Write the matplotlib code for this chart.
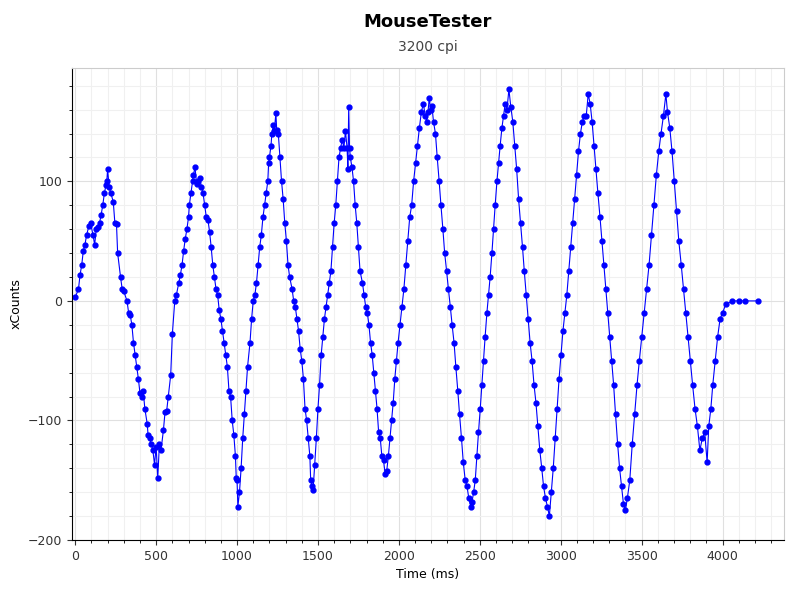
import matplotlib
matplotlib.use("Agg")
import matplotlib.pyplot as plt
from matplotlib.ticker import MultipleLocator

time_ms = [0,20,30,40,50,60,70,85,95,110,120,130,140,150,160,170,180,190,195,200,210,220,235,245,255,262,280,290,300,320,330,340,350,360,370,380,390,400,410,420,430,445,450,460,470,480,490,500,510,520,530,545,555,565,575,590,600,
 615,625,640,650,660,670,680,690,700,705,715,725,730,740,750,760,770,780,790,800,810,820,830,840,850,860,870,880,890,900,910,920,930,940,950,960,970,980,990,995,1000,1005,1015,1025,1035,1045,
 1055,1065,1080,1090,1100,1110,1120,1130,1140,1150,1160,1170,1180,1190,1195,1200,1210,1215,1225,1230,1240,1245,1255,1265,1275,1285,1295,1305,1315,1325,1340,1350,1360,1370,1380,1390,1400,1410,1420,1430,1440,1450,1455,1465,1470,1480,1490,1500,
 1510,1520,1530,1540,1550,1560,1570,1580,1590,1600,1610,1620,1630,1640,1650,1660,1670,1680,1685,1690,1695,1700,1710,1720,1730,1740,1750,1760,1775,1785,1795,1805,1815,1825,1835,1845,1855,1865,1875,1885,1895,1905,1915,1925,1935,1945,1955,1965,1975,1985,
 1995,2007,2019,2031,2043,2055,2067,2079,2091,2103,2115,2127,2139,2151,2163,2172,2180,2188,2196,2204,
 2214,2226,2237,2249,2260,2272,2283,2295,2306,2318,2329,2341,2352,2364,2375,2387,2398,2410,2421,2432,2444,
 2452,2462,2472,2482,2492,2503,2513,2523,2533,2544,2554,2564,2575,2585,2595,2606,2616,2626,2637,2647,2657,2668,2680,
 2692,2704,2716,2728,2740,2752,2764,2775,2787,2799,2811,2823,2835,2847,2859,2871,2883,2894,2906,2918,2930,
 2942,2954,2966,2978,2990,3002,3014,3026,3038,3050,3062,3074,3086,3098,3110,3122,3134,3146,3158,3170,
 3182,3194,3206,3218,3230,3243,3255,3267,3279,3291,3303,3315,3327,3339,3352,3364,3376,3388,3400,
 3412,3427,3442,3457,3472,3486,3501,3516,3531,3546,3561,3576,3591,3606,3620,3635,3650,
 3660,3674,3688,3702,3716,3730,3745,3759,3773,3787,3801,3815,3830,3845,3860,3875,3890,3905,
 3915,3928,3940,3955,3970,3985,4000,4020,4060,4100,4140,4220]
x_counts = [3,10,22,30,42,47,55,63,65,55,47,60,62,65,72,80,90,97,100,110,95,90,83,65,64,40,20,10,8,0,-10,-12,-20,-35,-45,-55,-65,-77,-80,-75,-90,-103,-112,-115,-120,-125,-137,-122,-148,-120,-125,-108,-93,-92,-80,-62,-28,
 0,5,15,22,30,42,52,60,70,80,90,100,105,112,98,100,103,95,90,80,70,68,58,45,30,20,10,5,-8,-15,-25,-35,-45,-55,-75,-80,-100,-112,-130,-148,-150,-172,-160,-140,-115,-95,
 -75,-55,-35,-15,0,5,15,30,45,55,70,80,90,100,115,120,130,140,147,142,157,143,140,120,100,85,65,50,30,20,10,0,-5,-15,-25,-40,-50,-65,-90,-100,-115,-130,-150,-155,-158,-137,-115,-90,
 -70,-45,-30,-15,-5,5,15,25,45,65,80,100,120,128,135,128,142,128,110,162,128,120,112,100,80,65,45,25,15,5,-5,-10,-20,-35,-45,-60,-75,-90,-110,-115,-130,-133,-145,-142,-130,-115,-100,-85,-65,-50,
 -35,-20,-5,10,30,50,70,80,100,115,130,145,158,165,155,150,158,170,160,163,
 150,140,120,100,80,60,40,25,10,-5,-20,-35,-55,-75,-95,-115,-135,-150,-155,-165,-172,
 -168,-160,-150,-130,-110,-90,-70,-50,-30,-10,5,20,40,60,80,100,115,130,145,155,165,160,177,
 162,150,130,110,85,65,45,25,5,-15,-35,-50,-70,-85,-105,-125,-140,-155,-165,-172,-180,
 -160,-140,-115,-90,-65,-45,-25,-10,5,25,45,65,85,105,125,140,150,155,155,173,
 165,150,130,110,90,70,50,30,10,-10,-30,-50,-70,-95,-120,-140,-155,-170,-175,
 -165,-150,-120,-95,-70,-50,-30,-10,10,30,55,80,105,125,140,155,173,
 158,145,125,100,75,50,30,10,-10,-30,-50,-70,-90,-105,-125,-115,-110,-135,
 -105,-90,-70,-50,-30,-15,-10,-3,0,0,0,0]

fig = plt.figure(figsize=(8, 6), dpi=100)
ax = fig.add_axes([0.09, 0.10, 0.89, 0.787])
ax.plot(time_ms, x_counts, color="#0000ff", lw=0.8)
ax.plot(time_ms, x_counts, "o", color="#0000ff", ms=3.5)
ax.set_xlim(-20, 4380)
ax.set_ylim(-200, 195)
ax.xaxis.set_major_locator(MultipleLocator(500))
ax.xaxis.set_minor_locator(MultipleLocator(100))
ax.yaxis.set_major_locator(MultipleLocator(100))
ax.yaxis.set_minor_locator(MultipleLocator(20))
ax.grid(which="minor", color="#f0f0f0", lw=0.8)
ax.grid(which="major", color="#e0e0e0", lw=0.8)
ax.set_axisbelow(True)
for s in ["top", "right"]:
    ax.spines[s].set_color("#cccccc")
ax.tick_params(labelsize=9, colors="#333333")
ax.set_xlabel("Time (ms)", fontsize=9)
ax.set_ylabel("xCounts", fontsize=9)
fig.text(0.535, 0.955, "MouseTester", ha="center", fontsize=13, fontweight="bold")
fig.text(0.535, 0.915, "3200 cpi", ha="center", fontsize=10, color="#444444")
fig.savefig("out.png")
